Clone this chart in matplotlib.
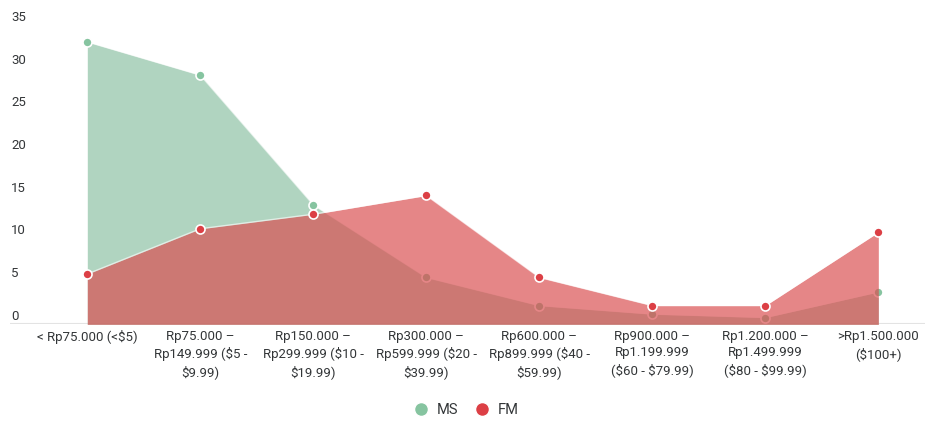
import matplotlib.pyplot as plt
from matplotlib.lines import Line2D
from matplotlib.transforms import offset_copy

plt.rcParams['font.family'] = ['Roboto', 'DejaVu Sans']
plt.rcParams['text.parse_math'] = False  # labels contain plain dollar signs

categories = [
    "< Rp75.000 (<$5)",
    "Rp75.000 –\nRp149.999 ($5 -\n$9.99)",
    "Rp150.000 –\nRp299.999 ($10 -\n$19.99)",
    "Rp300.000 –\nRp599.999 ($20 -\n$39.99)",
    "Rp600.000 –\nRp899.999 ($40 -\n$59.99)",
    "Rp900.000 –\nRp1.199.999\n($60 - $79.99)",
    "Rp1.200.000 –\nRp1.499.999\n($80 - $99.99)",
    ">Rp1.500.000\n($100+)",
]
ms_values = [33.1, 29.2, 14.0, 5.5, 2.2, 1.2, 0.8, 3.8]
fm_values = [5.9, 11.2, 12.9, 15.1, 5.5, 2.2, 2.2, 10.8]
y_ticks = [0, 5, 10, 15, 20, 25, 30, 35]

ms_color = '#8bc0a3'
ms_dot = '#86c4a0'
fm_color = '#da4d4f'
fm_dot = '#dc3f45'
text_color = '#333638'

fig = plt.figure(figsize=(9.25, 4.21), dpi=100)
ax = fig.add_axes([10 / 925, 0.2296, 915 / 925, 0.75])

x = list(range(len(categories)))

# MS area underneath
ax.fill_between(x, ms_values, 0, color=ms_color, alpha=0.68, lw=0, zorder=2)
ax.plot(x, ms_values, color='white', lw=1, alpha=0.6, zorder=2.1)
ax.plot(x, ms_values, 'o', ms=6.5, mfc=ms_dot, mec='white', mew=1.2, zorder=2.2)

# FM area on top
ax.fill_between(x, fm_values, 0, color=fm_color, alpha=0.68, lw=0, zorder=3)
ax.plot(x, fm_values, color='white', lw=1, alpha=0.6, zorder=3.1)
ax.plot(x, fm_values, 'o', ms=6.5, mfc=fm_dot, mec='white', mew=1.2, zorder=3.2)

ax.axhline(0, color='#e3e3e3', lw=1.5, zorder=1)

ax.set_xlim(-0.684, 7.413)
ax.set_ylim(0, 37)
for s in ax.spines.values():
    s.set_visible(False)

ax.set_xticks(x)
ax.set_xticklabels(categories, fontsize=9.5, color=text_color, linespacing=1.35)
ax.tick_params(axis='x', length=0, pad=4)
ax.set_yticks([])

# y labels sit inside the plot, slightly above their values
trans = offset_copy(ax.get_yaxis_transform(), fig=fig, x=1, y=8.3, units='dots')
for v in y_ticks:
    ax.text(0, v, str(v), transform=trans, ha='left', va='center',
            fontsize=9.5, color=text_color)

handles = [
    Line2D([], [], ls='', marker='o', ms=10, mfc=ms_dot, mec='white', label='MS'),
    Line2D([], [], ls='', marker='o', ms=10, mfc=fm_dot, mec='white', label='FM'),
]
fig.legend(handles=handles, loc='center', bbox_to_anchor=(0.5, 1 - 410 / 421),
           ncol=2, frameon=False, fontsize=10.5, handletextpad=0.1,
           columnspacing=0.6, labelcolor=text_color)

fig.savefig('out.png', dpi=100)
